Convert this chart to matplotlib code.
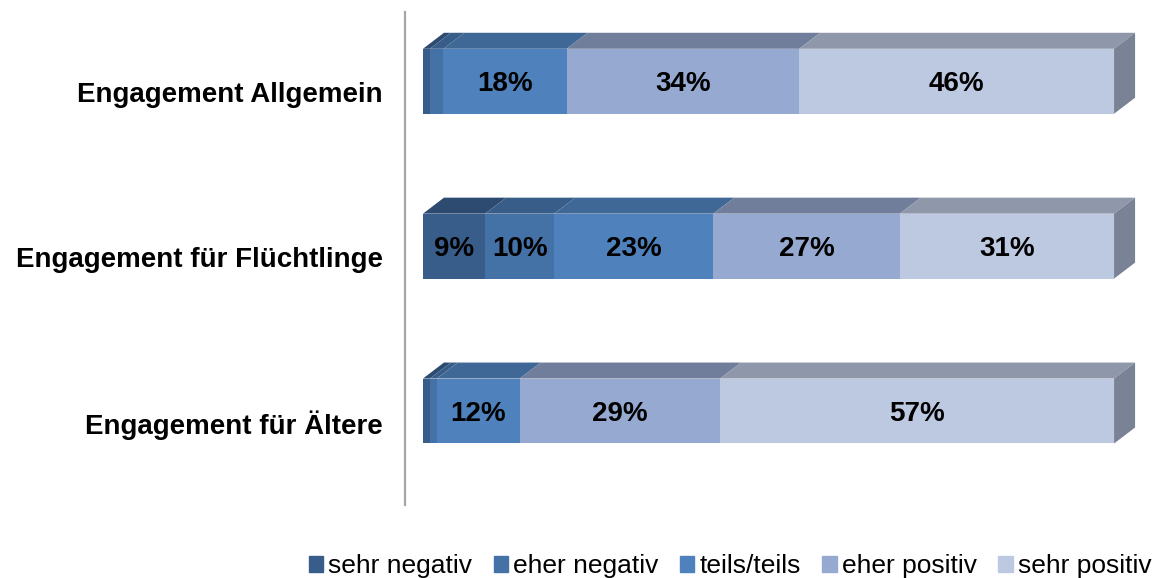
import numpy as np
import matplotlib.pyplot as plt
from matplotlib.patches import Polygon
from matplotlib.transforms import ScaledTranslation

plt.rcParams['font.family'] = ['Liberation Sans', 'DejaVu Sans']

# data
categories = ['Engagement Allgemein', 'Engagement für Flüchtlinge', 'Engagement für Ältere']
series = ['sehr negativ', 'eher negativ', 'teils/teils', 'eher positiv', 'sehr positiv']
values = np.array([
    [1, 2, 18, 34, 46],
    [9, 10, 23, 27, 31],
    [1, 1, 12, 29, 57],
])

front = ['#385D8A', '#4472A7', '#4F81BD', '#95A9D1', '#BDC9E1']
top = ['#2D4B70', '#375D88', '#3F6897', '#707E9B', '#8F97AA']
side = '#7A8296'

fig = plt.figure(figsize=(11.69, 5.78), dpi=100)
ax = fig.add_axes([405 / 1169, 73 / 578, 745 / 1169, 493 / 578])

h = 0.394
dx = 3.04
dy = 0.097

# 100% stacked: each row scaled to its total
shares = values / values.sum(axis=1, keepdims=True) * 100

for i, row in enumerate(shares):
    left = 0
    yt = i - h / 2
    yb = i + h / 2
    for j, v in enumerate(row):
        ax.barh(i, v, left=left, height=h, color=front[j], edgecolor='none', zorder=2)
        ax.add_patch(Polygon([(left, yt), (left + v, yt), (left + v + dx, yt - dy), (left + dx, yt - dy)],
                             closed=True, facecolor=top[j], edgecolor='none', zorder=2))
        if values[i, j] >= 5:
            ax.text(left + v / 2, i, f'{values[i, j]}%', ha='center', va='center_baseline',
                    fontsize=20, fontweight='bold', color='black', zorder=3)
        left += v
    ax.add_patch(Polygon([(left, yt), (left + dx, yt - dy), (left + dx, yb - dy), (left, yb)],
                         closed=True, facecolor=side, edgecolor='none', zorder=2))

ax.set_xlim(-2.6, 105.2)
ax.set_ylim(2.57, -0.42)
ax.set_xticks([])
ax.set_yticks(range(len(categories)))
ax.set_yticklabels(categories, fontsize=20, fontweight='bold')
ax.tick_params(axis='y', length=0, pad=16)
# labels sit a little below the bar centres
shift = ScaledTranslation(0, -0.11, fig.dpi_scale_trans)
for lab in ax.get_yticklabels():
    lab.set_transform(lab.get_transform() + shift)
for s in ['top', 'right', 'bottom']:
    ax.spines[s].set_visible(False)
ax.spines['left'].set_color('#A6A6A6')
ax.spines['left'].set_linewidth(1.6)

handles = [plt.Rectangle((0, 0), 1, 1, color=c) for c in front]
fig.legend(handles, series, loc='center right', bbox_to_anchor=(1162 / 1169, 1 - 566 / 578),
           ncol=5, frameon=False, fontsize=19, handlelength=0.55, handleheight=0.55,
           handletextpad=0.2, columnspacing=0.8, borderaxespad=0)

fig.savefig('out.png', dpi=100)
